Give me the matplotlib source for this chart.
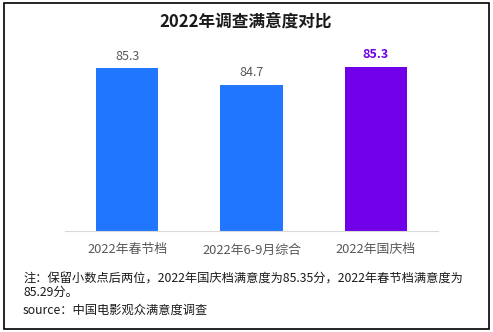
import matplotlib
matplotlib.use("Agg")
import matplotlib.pyplot as plt
from matplotlib.patches import Rectangle

plt.rcParams['font.family'] = ['Noto Sans CJK SC', 'DejaVu Sans']

# 数据
categories = ["2022年春节档", "2022年6-9月综合", "2022年国庆档"]
values = [85.29, 84.70, 85.35]
labels = ["85.3", "84.7", "85.3"]
colors = ["#2176FF", "#2176FF", "#6F00E8"]
title = "2022年调查满意度对比"
note = "注：保留小数点后两位，2022年国庆档满意度为85.35分，2022年春节档满意度为\n85.29分。"
source = "source：中国电影观众满意度调查"

W, H = 493, 332
fig = plt.figure(figsize=(W / 100, H / 100), dpi=100)

# 外框
fig.patches.append(Rectangle((4 / W, 3 / H), 485 / W, 326 / H, transform=fig.transFigure,
                             fill=False, edgecolor="black", linewidth=1.2))

ax = fig.add_axes([65 / W, (H - 231) / H, 373 / W, 191 / H])
x = range(len(categories))
bars = ax.bar(x, values, width=0.5, color=colors)
ax.set_xlim(-0.5, 2.5)
ax.set_ylim(79.6, 86.28)

for i, (b, lab) in enumerate(zip(bars, labels)):
    last = i == len(bars) - 1
    ax.text(b.get_x() + b.get_width() / 2, b.get_height() + 0.2, lab,
            ha="center", va="bottom", fontsize=9,
            color="#6F00E8" if last else "#595959",
            fontweight="bold" if last else "normal")

ax.set_xticks(list(x), labels=categories, fontsize=9.3, color="#595959")
ax.tick_params(axis="x", length=0, pad=9)
ax.set_yticks([])
for s in ["top", "right", "left"]:
    ax.spines[s].set_visible(False)
ax.spines["bottom"].set_color("#d9d9d9")

fig.text(246 / W, 1 - 22 / H, title, ha="center", va="center", fontsize=12,
         fontweight="bold", color="#1a1a1a")
fig.text(23 / W, 1 - 286 / H, note, ha="left", va="center", fontsize=8.8,
         color="#1a1a1a", linespacing=1.05)
fig.text(23 / W, 1 - 310 / H, source, ha="left", va="center", fontsize=8.8,
         color="#1a1a1a")

fig.savefig("out.png", dpi=100)
